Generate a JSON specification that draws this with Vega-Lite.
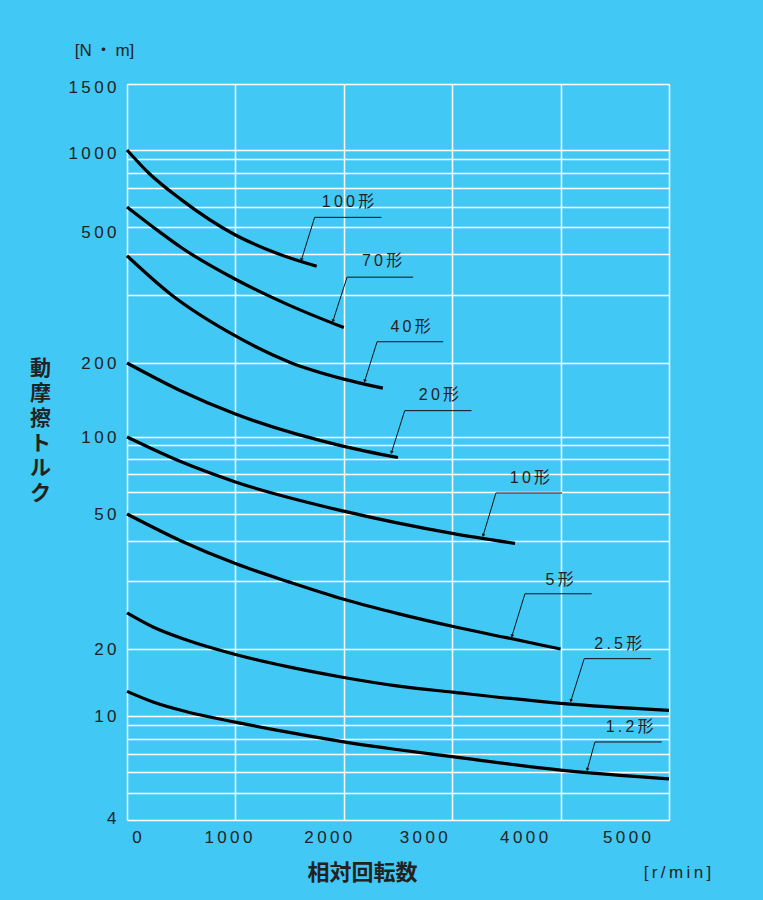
{
  "$schema": "https://vega.github.io/schema/vega-lite/v6.json",
  "width": 542,
  "height": 736,
  "autosize": {"type": "none"},
  "padding": {"left": 127, "top": 84, "right": 94, "bottom": 80},
  "background": "#42c8f4",
  "config": {
    "view": {"stroke": null},
    "axis": {"labelColor": "#222222", "titleColor": "#222222"}
  },
  "datasets": {
    "curves": [
      {"model": "100形", "rpm": 0, "torque": 1000},
      {"model": "100形", "rpm": 200, "torque": 800},
      {"model": "100形", "rpm": 500, "torque": 637},
      {"model": "100形", "rpm": 1000, "torque": 468},
      {"model": "100形", "rpm": 1400, "torque": 400},
      {"model": "100形", "rpm": 1750, "torque": 367},
      {"model": "70形", "rpm": 0, "torque": 600},
      {"model": "70形", "rpm": 240, "torque": 500},
      {"model": "70形", "rpm": 500, "torque": 422},
      {"model": "70形", "rpm": 1000, "torque": 335},
      {"model": "70形", "rpm": 1500, "torque": 282},
      {"model": "70形", "rpm": 2000, "torque": 247},
      {"model": "40形", "rpm": 0, "torque": 395},
      {"model": "40形", "rpm": 400, "torque": 302},
      {"model": "40形", "rpm": 1000, "torque": 235},
      {"model": "40形", "rpm": 1500, "torque": 201},
      {"model": "40形", "rpm": 2000, "torque": 172},
      {"model": "40形", "rpm": 2360, "torque": 158},
      {"model": "20形", "rpm": 0, "torque": 200},
      {"model": "20形", "rpm": 485, "torque": 155},
      {"model": "20形", "rpm": 1000, "torque": 124},
      {"model": "20形", "rpm": 2000, "torque": 89},
      {"model": "20形", "rpm": 2500, "torque": 81},
      {"model": "10形", "rpm": 0, "torque": 100},
      {"model": "10形", "rpm": 500, "torque": 78},
      {"model": "10形", "rpm": 1000, "torque": 65.4},
      {"model": "10形", "rpm": 2000, "torque": 51.2},
      {"model": "10形", "rpm": 3000, "torque": 42.6},
      {"model": "10形", "rpm": 3580, "torque": 39.3},
      {"model": "5形", "rpm": 0, "torque": 50},
      {"model": "5形", "rpm": 500, "torque": 40},
      {"model": "5形", "rpm": 1000, "torque": 34},
      {"model": "5形", "rpm": 1500, "torque": 29.8},
      {"model": "5形", "rpm": 2000, "torque": 26.9},
      {"model": "5形", "rpm": 2500, "torque": 24.7},
      {"model": "5形", "rpm": 3000, "torque": 22.9},
      {"model": "5形", "rpm": 3500, "torque": 21.4},
      {"model": "5形", "rpm": 4000, "torque": 20},
      {"model": "2.5形", "rpm": 0, "torque": 24.8},
      {"model": "2.5形", "rpm": 240, "torque": 22.8},
      {"model": "2.5形", "rpm": 550, "torque": 21.1},
      {"model": "2.5形", "rpm": 1000, "torque": 18.9},
      {"model": "2.5形", "rpm": 1470, "torque": 16.7},
      {"model": "2.5形", "rpm": 2000, "torque": 14.9},
      {"model": "2.5形", "rpm": 2470, "torque": 13.7},
      {"model": "2.5形", "rpm": 3000, "torque": 12.8},
      {"model": "2.5形", "rpm": 4000, "torque": 11.4},
      {"model": "2.5形", "rpm": 5000, "torque": 10.6},
      {"model": "1.2形", "rpm": 0, "torque": 12.9},
      {"model": "1.2形", "rpm": 240, "torque": 11.56},
      {"model": "1.2形", "rpm": 550, "torque": 10.45},
      {"model": "1.2形", "rpm": 1000, "torque": 9.31},
      {"model": "1.2形", "rpm": 1470, "torque": 8.49},
      {"model": "1.2形", "rpm": 2000, "torque": 7.8},
      {"model": "1.2形", "rpm": 2470, "torque": 7.3},
      {"model": "1.2形", "rpm": 3000, "torque": 6.84},
      {"model": "1.2形", "rpm": 4000, "torque": 6.1},
      {"model": "1.2形", "rpm": 5000, "torque": 5.65}
    ],
    "notes": [
      {"model": "100形", "label": "1\u20090\u20090\u2009形", "lx": 2039, "ly": 625, "hx1": 1731, "hx2": 2347, "hy": 546, "tx": 1609, "ty": 384},
      {"model": "70形", "label": "7\u20090\u2009形", "lx": 2353, "ly": 380, "hx1": 2030, "hx2": 2639, "hy": 340, "tx": 1900, "ty": 257},
      {"model": "40形", "label": "4\u20090\u2009形", "lx": 2616, "ly": 248, "hx1": 2307, "hx2": 2916, "hy": 227, "tx": 2193, "ty": 169},
      {"model": "20形", "label": "2\u20090\u2009形", "lx": 2878, "ly": 148, "hx1": 2562, "hx2": 3178, "hy": 128, "tx": 2440, "ty": 84.5},
      {"model": "10形", "label": "1\u20090\u2009形", "lx": 3717, "ly": 67.5, "hx1": 3403, "hx2": 4015, "hy": 59.5, "tx": 3286, "ty": 41.9},
      {"model": "5形", "label": "5\u2009形", "lx": 3991, "ly": 30.3, "hx1": 3671, "hx2": 4287, "hy": 27.8, "tx": 3551, "ty": 21.6},
      {"model": "2.5形", "label": "2\u2009.\u20095\u2009形", "lx": 4532, "ly": 20.6, "hx1": 4218, "hx2": 4834, "hy": 18.1, "tx": 4095, "ty": 11.7},
      {"model": "1.2形", "label": "1\u2009.\u20092\u2009形", "lx": 4637, "ly": 8.83, "hx1": 4317, "hx2": 4933, "hy": 7.79, "tx": 4246, "ty": 6.12}
    ]
  },
  "layer": [
    {
      "data": {"name": "curves"},
      "mark": {"type": "line", "color": "#000000", "strokeWidth": 3.2, "interpolate": "monotone"},
      "encoding": {
        "x": {
          "field": "rpm", "type": "quantitative",
          "scale": {"domain": [0, 5000], "nice": false, "zero": false},
          "axis": {
            "orient": "bottom",
            "values": [0, 1000, 2000, 3000, 4000, 5000],
            "grid": true, "gridColor": "#ffffff", "gridWidth": 1.5, "gridOpacity": 1,
            "domain": false, "ticks": false, "tickSize": 0,
            "labelFont": "Liberation Sans", "labelFontSize": 17, "labelColor": "#222222",
            "labelBaseline": "middle", "labelPadding": 17, "labelOverlap": false, "labelFlush": false,
            "labelExpr": "datum.value==0?'0':datum.value==1000?'1\u20090\u20090\u20090':datum.value==2000?'2\u20090\u20090\u20090':datum.value==3000?'3\u20090\u20090\u20090':datum.value==4000?'4\u20090\u20090\u20090':'5\u20090\u20090\u20090'",
            "labelOffset": {"expr": "datum.value==0?9.5:datum.value==1000?-7.5:datum.value==2000?-16:datum.value==3000?-29:datum.value==4000?-37:-42.5"},
            "title": "相対回転数",
            "titleFont": "Noto Sans CJK JP", "titleFontSize": 22, "titleFontWeight": "bold",
            "titleX": 235, "titleY": 52, "titleAlign": "center", "titleBaseline": "middle"
          }
        },
        "y": {
          "field": "torque", "type": "quantitative",
          "scale": {
            "type": "log", "nice": false, "zero": false,
            "domain": [4, 5, 6, 7, 8, 9, 10, 20, 30, 40, 50, 60, 70, 80, 90, 100, 200, 300, 400, 500, 600, 700, 800, 900, 1000, 1500],
            "range": [736, 709, 688, 670, 655, 641, 632, 565, 497, 457, 430, 408, 390, 375, 361, 353, 279, 211, 170, 143, 123, 104, 89, 75, 66, 0]
          },
          "axis": {
            "orient": "left",
            "values": [4, 5, 6, 7, 8, 9, 10, 20, 30, 40, 50, 60, 70, 80, 90, 100, 200, 300, 400, 500, 600, 700, 800, 900, 1000, 1500],
            "grid": true, "gridColor": "#ffffff", "gridWidth": 1.5, "gridOpacity": 1,
            "domain": false, "ticks": false, "tickSize": 0,
            "labelFont": "Liberation Sans", "labelFontSize": 17, "labelColor": "#222222",
            "labelBaseline": "middle", "labelPadding": 11, "labelOverlap": false, "labelFlush": false,
            "labelExpr": "datum.value==1500?'1\u20095\u20090\u20090':datum.value==1000?'1\u20090\u20090\u20090':datum.value==500?'5\u20090\u20090':datum.value==200?'2\u20090\u20090':datum.value==100?'1\u20090\u20090':datum.value==50?'5\u20090':datum.value==20?'2\u20090':datum.value==10?'1\u20090':datum.value==4?'4':''",
            "labelOffset": {"expr": "datum.value==500?5:datum.value>=1000?3:datum.value==4?-2:0"},
            "title": ["動", "摩", "擦", "ト", "ル", "ク"],
            "titleFont": "Noto Sans CJK JP", "titleFontSize": 21, "titleFontWeight": "bold",
            "titleAngle": 0, "titleX": -87, "titleY": 284, "titleAlign": "center", "titleBaseline": "middle",
            "titleLineHeight": 25
          }
        },
        "detail": {"field": "model"}
      }
    },
    {
      "data": {"name": "notes"},
      "mark": {"type": "text", "font": "Liberation Sans, Noto Sans CJK JP", "fontSize": 16, "color": "#222222", "align": "center", "baseline": "middle"},
      "encoding": {
        "x": {
          "field": "lx", "type": "quantitative",
          "scale": {"domain": [0, 5000], "nice": false, "zero": false},
          "axis": {
            "orient": "bottom", "labels": false, "ticks": false, "domain": false, "grid": false,
            "title": "[\u2009r\u2009/\u2009m\u2009i\u2009n\u2009]",
            "titleFont": "Liberation Sans", "titleFontSize": 17, "titleFontWeight": "normal",
            "titleX": 550, "titleY": 52, "titleAlign": "center", "titleBaseline": "middle"
          }
        },
        "y": {
          "field": "ly", "type": "quantitative",
          "scale": {
            "type": "log", "nice": false, "zero": false,
            "domain": [4, 5, 6, 7, 8, 9, 10, 20, 30, 40, 50, 60, 70, 80, 90, 100, 200, 300, 400, 500, 600, 700, 800, 900, 1000, 1500],
            "range": [736, 709, 688, 670, 655, 641, 632, 565, 497, 457, 430, 408, 390, 375, 361, 353, 279, 211, 170, 143, 123, 104, 89, 75, 66, 0]
          },
          "axis": {
            "orient": "left", "labels": false, "ticks": false, "domain": false, "grid": false,
            "title": "[N\u2009・\u2009m]",
            "titleFont": "Liberation Sans, Noto Sans CJK JP", "titleFontSize": 17, "titleFontWeight": "normal",
            "titleAngle": 0, "titleX": -23, "titleY": -34, "titleAlign": "center", "titleBaseline": "middle"
          }
        },
        "text": {"field": "label"}
      }
    },
    {
      "data": {"name": "notes"},
      "mark": {"type": "rule", "color": "#111111", "strokeWidth": 1},
      "encoding": {
        "x": {"field": "hx1", "type": "quantitative", "scale": {"domain": [0, 5000], "nice": false, "zero": false}, "axis": null},
        "x2": {"field": "hx2"},
        "y": {
          "field": "hy", "type": "quantitative", "axis": null,
          "scale": {
            "type": "log", "nice": false, "zero": false,
            "domain": [4, 5, 6, 7, 8, 9, 10, 20, 30, 40, 50, 60, 70, 80, 90, 100, 200, 300, 400, 500, 600, 700, 800, 900, 1000, 1500],
            "range": [736, 709, 688, 670, 655, 641, 632, 565, 497, 457, 430, 408, 390, 375, 361, 353, 279, 211, 170, 143, 123, 104, 89, 75, 66, 0]
          }
        }
      }
    },
    {
      "data": {"name": "notes"},
      "mark": {"type": "rule", "color": "#111111", "strokeWidth": 1},
      "encoding": {
        "x": {"field": "hx1", "type": "quantitative", "scale": {"domain": [0, 5000], "nice": false, "zero": false}, "axis": null},
        "x2": {"field": "tx"},
        "y": {
          "field": "hy", "type": "quantitative", "axis": null,
          "scale": {
            "type": "log", "nice": false, "zero": false,
            "domain": [4, 5, 6, 7, 8, 9, 10, 20, 30, 40, 50, 60, 70, 80, 90, 100, 200, 300, 400, 500, 600, 700, 800, 900, 1000, 1500],
            "range": [736, 709, 688, 670, 655, 641, 632, 565, 497, 457, 430, 408, 390, 375, 361, 353, 279, 211, 170, 143, 123, 104, 89, 75, 66, 0]
          }
        },
        "y2": {"field": "ty"}
      }
    },
    {
      "data": {"name": "notes"},
      "mark": {"type": "point", "shape": "triangle-down", "filled": true, "color": "#111111", "size": 14, "angle": 17, "opacity": 1},
      "encoding": {
        "x": {"field": "tx", "type": "quantitative", "scale": {"domain": [0, 5000], "nice": false, "zero": false}, "axis": null},
        "y": {
          "field": "ty", "type": "quantitative", "axis": null,
          "scale": {
            "type": "log", "nice": false, "zero": false,
            "domain": [4, 5, 6, 7, 8, 9, 10, 20, 30, 40, 50, 60, 70, 80, 90, 100, 200, 300, 400, 500, 600, 700, 800, 900, 1000, 1500],
            "range": [736, 709, 688, 670, 655, 641, 632, 565, 497, 457, 430, 408, 390, 375, 361, 353, 279, 211, 170, 143, 123, 104, 89, 75, 66, 0]
          }
        }
      }
    }
  ],
  "resolve": {"axis": {"x": "independent", "y": "independent"}}
}
